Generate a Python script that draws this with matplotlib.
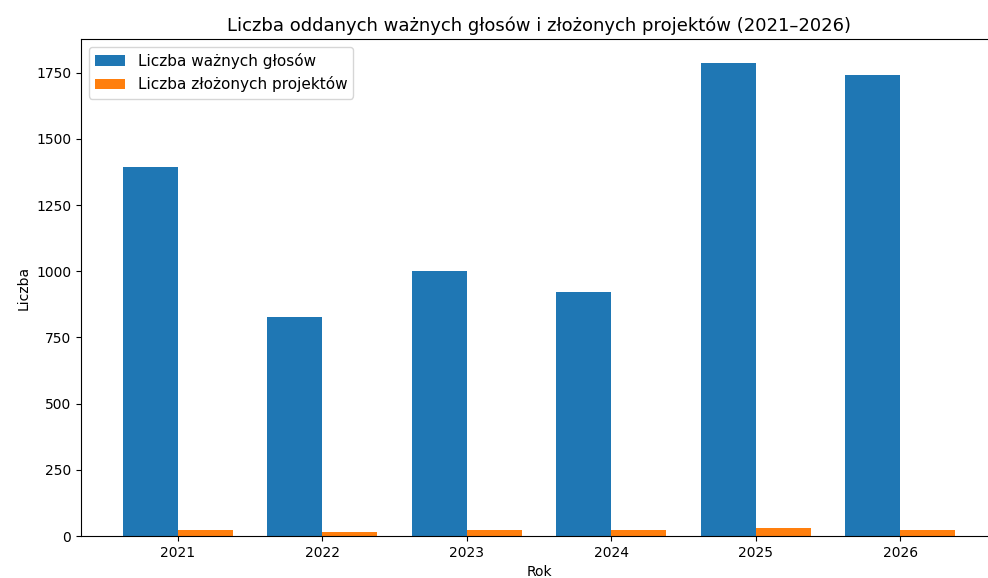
import numpy as np
import matplotlib
matplotlib.use('Agg')
import matplotlib.pyplot as plt

years = [2021, 2022, 2023, 2024, 2025, 2026]
votes = [1395, 828, 1001, 922, 1788, 1742]
projects = [24, 16, 24, 21, 29, 21]

x = np.arange(len(years))
w = 0.38

fig = plt.figure(figsize=(9.88, 5.78), dpi=100)
ax = fig.add_axes([81 / 988, 42 / 578, 916 / 988, 497 / 578])

ax.bar(x - w / 2, votes, w, label='Liczba ważnych głosów')
ax.bar(x + w / 2, projects, w, label='Liczba złożonych projektów')

ax.set_xticks(x)
ax.set_xticklabels([str(y) for y in years])
ax.set_xlabel('Rok')
ax.set_ylabel('Liczba')
ax.set_title('Liczba oddanych ważnych głosów i złożonych projektów (2021–2026)', fontsize=13)
ax.legend(loc='upper left', fontsize=11)

fig.savefig('out.png', dpi=100)
